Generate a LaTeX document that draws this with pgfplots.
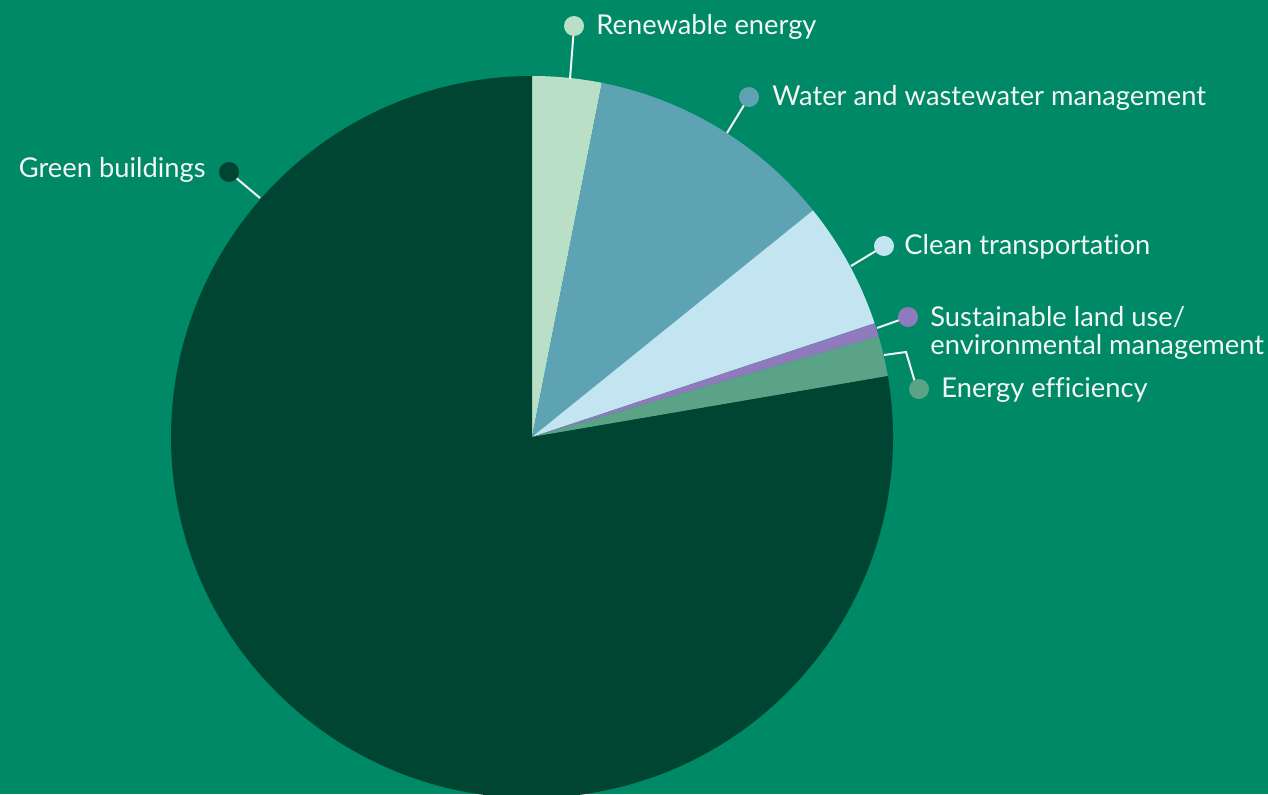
\documentclass[border=0pt]{standalone}
\usepackage{pgfplots}
\pgfplotsset{compat=1.18}
\usepackage{fontspec}
\setmainfont{Lato}[Ligatures=NoCommon]
\definecolor{bg}{HTML}{008966}
\definecolor{cGreen}{HTML}{004532}
\definecolor{cRen}{HTML}{B9E0C7}
\definecolor{cWat}{HTML}{5DA3B3}
\definecolor{cClean}{HTML}{C3E5F2}
\definecolor{cLand}{HTML}{8E7ABC}
\definecolor{cEff}{HTML}{5BA386}
\definecolor{txt}{HTML}{F2F7F4}
\begin{document}
\begin{tikzpicture}
\useasboundingbox (0,0) rectangle (634pt,397pt);
\begin{axis}[at={(0,0)}, anchor=south west, scale only axis,
  width=634pt, height=397pt, xmin=0, xmax=1268, ymin=0, ymax=794,
  hide axis, clip=true]
\addplot[draw=none] coordinates {(0,0)};
\fill[bg] (axis cs:0,0) rectangle (axis cs:1268,794);
\gdef\curang{90}
% shares in percent, clockwise from the top
\foreach \v/\col in {3.1/cRen, 11.1/cWat, 5.7/cClean, 0.6/cLand, 1.8/cEff, 77.7/cGreen}{
  \pgfmathsetmacro\s{\curang}
  \pgfmathsetmacro\e{\curang-3.6*\v}
  \edef\temp{\noexpand\fill[\col] (axis cs:532,357) -- (axis cs:{532+361*cos(\s)},{357+361*sin(\s)}) arc[start angle=\s, end angle=\e, radius=180.5pt] -- cycle;}
  \temp
  \xdef\curang{\e}
}
\end{axis}
\begin{axis}[at={(0,0)}, anchor=south west, scale only axis,
  width=634pt, height=397pt, xmin=0, xmax=1268, ymin=0, ymax=794,
  hide axis, clip=false]
\addplot[draw=none] coordinates {(0,0)};
\tikzset{lead/.style={draw=txt, line width=1pt},
  lab/.style={text=txt, anchor=base west, inner sep=0pt, font=\fontsize{13.65}{14}\selectfont}}
% leader lines
\draw[lead] (axis cs:574,767) -- (axis cs:570,715);
\draw[lead] (axis cs:749,697) -- (axis cs:727,661);
\draw[lead] (axis cs:229,622) -- (axis cs:260,596);
\draw[lead] (axis cs:884,548) -- (axis cs:851,528);
\draw[lead] (axis cs:908,477) -- (axis cs:877,466);
\draw[lead] (axis cs:884,439) -- (axis cs:906,442) -- (axis cs:917,405);
% dots
\fill[cRen] (axis cs:574,768) circle[radius=5pt];
\fill[cWat] (axis cs:749,697) circle[radius=5pt];
\fill[cGreen] (axis cs:229,622) circle[radius=5pt];
\fill[cClean] (axis cs:884,548) circle[radius=5pt];
\fill[cLand] (axis cs:908,477) circle[radius=5pt];
\fill[cEff] (axis cs:919,405) circle[radius=5pt];
% labels
\node[lab] at (axis cs:596,759) {Renewable energy};
\node[lab] at (axis cs:772,688) {Water and wastewater management};
\node[lab, anchor=base east] at (axis cs:206,616) {Green buildings};
\node[lab] at (axis cs:904,539) {Clean transportation};
\node[lab] at (axis cs:930,468) {Sustainable land use/};
\node[lab] at (axis cs:930,440) {environmental management};
\node[lab] at (axis cs:941,397) {Energy efficiency};
\end{axis}
\end{tikzpicture}
\end{document}
